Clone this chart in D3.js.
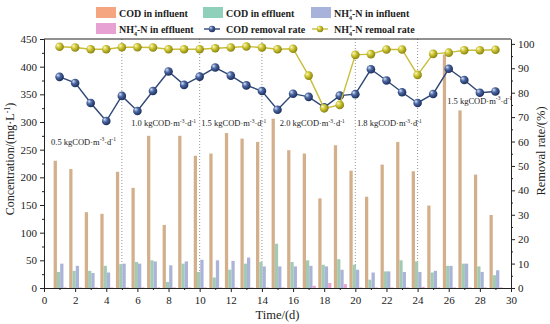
<!DOCTYPE html>
<html>
<head>
<meta charset="utf-8">
<script src="https://cdn.jsdelivr.net/npm/d3@7"></script>
<style>
  body { margin: 0; background: #fff; }
  svg text { font-family: "Liberation Serif", "Times New Roman", serif; fill: #222; }
  .axis path, .axis line { stroke: #222; }
  .axis text { font-size: 11px; }
</style>
</head>
<body>
<div class="main"></div>
<script>
const svgWidth = 550,
    svgHeight = 324,
    margin = {top: 39, right: 39, bottom: 36, left: 44},
    width = svgWidth - margin.left - margin.right,
    height = svgHeight - margin.top - margin.bottom;

// data
const days = d3.range(1, 30);
const codIn = [230, 215, 137, 134, 210, 181, 275, 114, 275, 239,
               243, 280, 270, 264, 306, 249, 243, 162, 258, 212,
               165, 223, 264, 211, 149, 422, 321, 205, 132];
const codOut = [29, 31, 31, 40, 43, 47, 50, 11, 44, 29,
                19, 33, 44, 47, 80, 47, 50, 42, 52, 42,
                15, 30, 50, 48, 28, 40, 44, 39, 23];
const nhIn = [44, 40, 27, 28, 44, 44, 48, 41, 48, 51,
              50, 49, 55, 39, 39, 39, 40, 39, 33, 33,
              28, 30, 29, 29, 31, 40, 44, 29, 32];
const nhOut = [1, 1, 1, 1, 1, 1, 1, 1, 1, 1,
               1, 1, 1, 1, 1, 1, 4, 9, 7, 1,
               1, 1, 1, 2, 1, 1, 1, 1, 1];
const codRate = [86.5, 84, 75.8, 68.4, 78.7, 72.5, 80.7, 88.7, 83.2, 86.6,
                 90.3, 87, 83, 80.7, 73, 79.6, 78.3, 74, 78.8, 79.4,
                 89.6, 85, 80.2, 75.8, 79.5, 89.8, 85.2, 80, 80.5];
const nhRate = [98.8, 98.5, 97.8, 97.8, 98.6, 98.6, 98.5, 97.8, 97.8, 97.8,
                98.2, 98.5, 98.9, 98.5, 97.8, 98, 87, 73.6, 75, 95.5,
                95.8, 97.7, 97.7, 87.3, 95.9, 96.4, 97.4, 97.4, 97.6];
const stageLines = [5, 10, 14, 20, 24];
const stageLabels = [
  {x: 0.45, y: 259, t: "0.5"},
  {x: 5.6, y: 292, t: "1.0"},
  {x: 10.1, y: 292, t: "1.5"},
  {x: 15.15, y: 292, t: "2.0"},
  {x: 20.1, y: 292, t: "1.8"},
  {x: 25.9, y: 333, t: "1.5"}
];

const barColor = {codIn: "#d3b08b", codOut: "#a3cbb3", nhIn: "#aab3d8", nhOut: "#e9a3d1"};
const swatchColor = {codIn: "#f5a680", codOut: "#8fd0ba", nhIn: "#a8b3dc", nhOut: "#e7a1d3"};

let svg = d3.select("body>.main").append("svg")
    .attr("width", svgWidth)
    .attr("height", svgHeight);

let defs = svg.append("defs");
function ball(id, light, mid, dark) {
  let g = defs.append("radialGradient").attr("id", id)
      .attr("cx", "40%").attr("cy", "40%").attr("r", "60%")
      .attr("fx", "30%").attr("fy", "30%");
  g.append("stop").attr("offset", "0%").attr("stop-color", light);
  g.append("stop").attr("offset", "45%").attr("stop-color", mid);
  g.append("stop").attr("offset", "100%").attr("stop-color", dark);
}
ball("ballBlue", "#d9e2f5", "#4a67a3", "#1d2f5c");
ball("ballYellow", "#fbf8c8", "#cfc835", "#8a8410");

let g = svg.append("g")
    .attr("transform", "translate(" + margin.left + "," + margin.top + ")");

let x = d3.scaleLinear().domain([0, 30]).range([0, width]),
    y = d3.scaleLinear().domain([0, 450]).range([height, 0]),
    yr = d3.scaleLinear().domain([0, 102]).range([height, 0]);

// stage separators
g.append("g").selectAll("line")
    .data(stageLines)
  .enter().append("line")
    .attr("x1", d => x(d)).attr("x2", d => x(d))
    .attr("y1", 0).attr("y2", height)
    .style("stroke", "#8a8a8a")
    .style("stroke-width", 0.9)
    .style("stroke-dasharray", "1,2");

// bars
const bw = 0.21;
const series = [
  {key: "codIn", vals: codIn, off: -0.38},
  {key: "codOut", vals: codOut, off: -0.17},
  {key: "nhIn", vals: nhIn, off: 0.04},
  {key: "nhOut", vals: nhOut, off: 0.25}
];
series.forEach(function(s) {
  g.append("g").selectAll("rect")
      .data(s.vals)
    .enter().append("rect")
      .attr("x", (d, i) => x(days[i] + s.off))
      .attr("width", x(bw) - x(0))
      .attr("y", d => y(d))
      .attr("height", d => height - y(d))
      .style("fill", barColor[s.key]);
});

// removal rate lines
function rateLine(vals, lineColor, grad) {
  let line = d3.line().x((d, i) => x(days[i])).y(d => yr(d));
  g.append("path")
      .datum(vals)
      .attr("d", line)
      .style("fill", "none")
      .style("stroke", lineColor)
      .style("stroke-width", 1.4);
  g.append("g").selectAll("circle")
      .data(vals)
    .enter().append("circle")
      .attr("cx", (d, i) => x(days[i]))
      .attr("cy", d => yr(d))
      .attr("r", 4.3)
      .style("fill", "url(#" + grad + ")");
}
rateLine(codRate, "#2f4775", "ballBlue");
rateLine(nhRate, "#c9bd3a", "ballYellow");

// stage labels
let lab = g.append("g").selectAll("text")
    .data(stageLabels)
  .enter().append("text")
    .attr("x", d => x(d.x))
    .attr("y", d => y(d.y))
    .style("font-size", "8.5px");
lab.append("tspan").text(d => d.t + " kgCOD·m");
lab.append("tspan").attr("dy", -3.5).style("font-size", "5.5px").text("-3");
lab.append("tspan").attr("dy", 3.5).text("·d");
lab.append("tspan").attr("dy", -3.5).style("font-size", "5.5px").text("-1");

// axes
g.append("g")
    .attr("class", "axis")
    .attr("transform", "translate(0," + height + ")")
    .call(d3.axisBottom(x).tickValues(d3.range(0, 31, 2)).tickSize(4).tickPadding(4).tickSizeOuter(0));
g.append("g")
    .attr("class", "axis")
    .attr("transform", "translate(0," + height + ")")
    .call(d3.axisBottom(x).tickValues(d3.range(1, 30, 2)).tickSize(2).tickFormat("").tickSizeOuter(0));

g.append("g")
    .attr("class", "axis")
    .call(d3.axisLeft(y).tickValues(d3.range(0, 451, 50)).tickSize(4).tickPadding(3).tickSizeOuter(0));
g.append("g")
    .attr("class", "axis")
    .call(d3.axisLeft(y).tickValues(d3.range(25, 450, 50)).tickSize(2).tickFormat("").tickSizeOuter(0));

g.append("g")
    .attr("class", "axis")
    .attr("transform", "translate(" + width + ",0)")
    .call(d3.axisRight(yr).tickValues(d3.range(0, 101, 10)).tickSize(4).tickPadding(3).tickSizeOuter(0));
g.append("g")
    .attr("class", "axis")
    .attr("transform", "translate(" + width + ",0)")
    .call(d3.axisRight(yr).tickValues(d3.range(5, 100, 10)).tickSize(2).tickFormat("").tickSizeOuter(0));

// top border
g.append("line")
    .attr("x1", 0).attr("x2", width).attr("y1", 0).attr("y2", 0)
    .style("stroke", "#222");

// axis titles
svg.append("text")
    .attr("transform", "translate(14," + (margin.top + 120) + ") rotate(-90)")
    .style("text-anchor", "middle")
    .style("font-size", "12px")
    .call(function(t) {
      t.append("tspan").text("Concentration/(mg·L");
      t.append("tspan").attr("dy", -4).style("font-size", "8px").text("-1");
      t.append("tspan").attr("dy", 4).text(")");
    });

svg.append("text")
    .attr("transform", "translate(545," + (margin.top + 112) + ") rotate(-90)")
    .style("text-anchor", "middle")
    .style("font-size", "12.5px")
    .text("Removal rate/(%)");

svg.append("text")
    .attr("x", margin.left + width / 2)
    .attr("y", 319)
    .style("text-anchor", "middle")
    .style("font-size", "12.5px")
    .text("Time/(d)");

// legend
function nh(t, rest) {
  t.append("tspan").text("NH");
  t.append("tspan").attr("dy", -3.5).style("font-size", "6px").text("+");
  t.append("tspan").attr("dx", -3.4).attr("dy", 6.5).style("font-size", "6px").text("4");
  t.append("tspan").attr("dy", -3).text(rest);
}
const legendItems = [
  {col: 0, row: 0, type: "bar", key: "codIn", label: "COD in influent"},
  {col: 1, row: 0, type: "bar", key: "codOut", label: "COD in effluent"},
  {col: 2, row: 0, type: "bar", key: "nhIn", nh: "-N in influent"},
  {col: 0, row: 1, type: "bar", key: "nhOut", nh: "-N in effluent"},
  {col: 1, row: 1, type: "line", color: "#2f4775", grad: "ballBlue", label: "COD removal rate"},
  {col: 2, row: 1, type: "line", color: "#c9bd3a", grad: "ballYellow", nh: "-N remoal rate"}
];
const legendX = [96, 203, 311], legendY = [13, 29];
let legend = svg.append("g").selectAll("g")
    .data(legendItems)
  .enter().append("g")
    .attr("transform", d => "translate(" + legendX[d.col] + "," + legendY[d.row] + ")");

legend.filter(d => d.type === "bar").append("rect")
    .attr("x", 0).attr("y", -6).attr("width", 20).attr("height", 11)
    .style("fill", d => swatchColor[d.key]);
legend.filter(d => d.type === "line").append("line")
    .attr("x1", 1).attr("x2", 17).attr("y1", 0).attr("y2", 0)
    .style("stroke", d => d.color).style("stroke-width", 1.4);
legend.filter(d => d.type === "line").append("circle")
    .attr("cx", 9).attr("cy", 0).attr("r", 3.2)
    .style("fill", d => "url(#" + d.grad + ")");

legend.append("text")
    .attr("x", 23)
    .attr("y", 3.5)
    .style("font-size", "10px")
    .style("font-weight", "bold")
    .each(function(d) {
      let t = d3.select(this);
      if (d.nh) nh(t, d.nh); else t.text(d.label);
    });
</script>
</body>
</html>
